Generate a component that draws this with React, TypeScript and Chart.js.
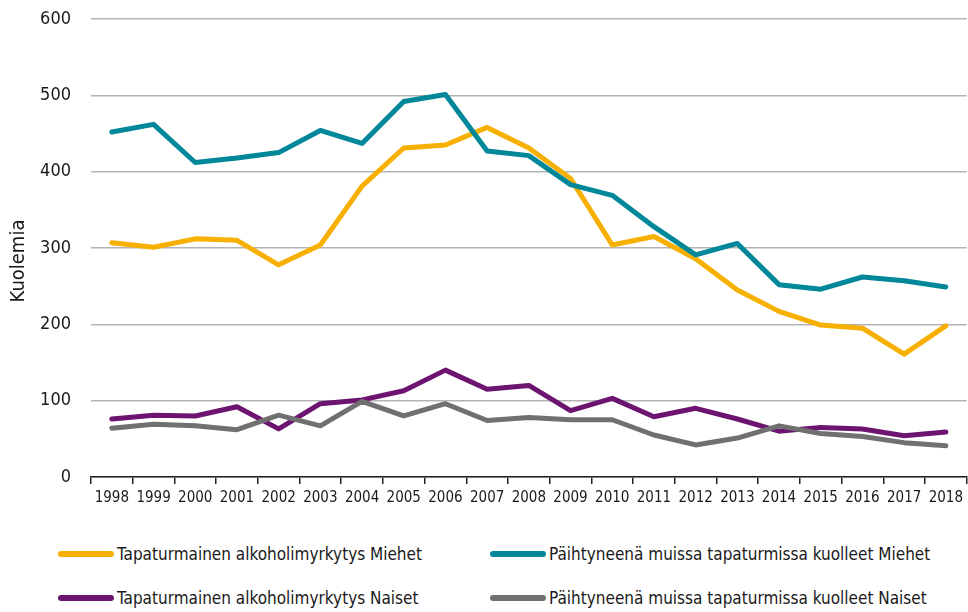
import React, { useEffect, useRef } from "react";
import { Chart, registerables } from "chart.js";

Chart.register(...registerables);

const years = ["1998","1999","2000","2001","2002","2003","2004","2005","2006","2007","2008","2009","2010","2011","2012","2013","2014","2015","2016","2017","2018"];
const alkoMiehet = [307, 301, 312, 310, 278, 304, 381, 431, 435, 458, 431, 391, 304, 315, 286, 245, 217, 199, 195, 161, 198];
const paihtMiehet = [452, 462, 412, 418, 425, 454, 437, 492, 501, 427, 421, 383, 369, 328, 291, 306, 252, 246, 262, 257, 249];
const alkoNaiset = [76, 81, 80, 92, 63, 96, 101, 113, 140, 115, 120, 87, 103, 79, 90, 76, 60, 65, 63, 54, 59];
const paihtNaiset = [64, 69, 67, 62, 81, 67, 99, 80, 96, 74, 78, 75, 75, 55, 42, 51, 67, 57, 53, 45, 41];
const yTicks = [0, 100, 200, 300, 400, 500, 600];
const yTitle = "Kuolemia";

const FONT = "'DejaVu Sans Condensed', 'Liberation Sans Narrow', sans-serif";
const ORANGE = "#F8B000";
const TEAL = "#00879A";
const PURPLE = "#6D1470";
const GRAY = "#707070";

const legendItems = [
  { label: "Tapaturmainen alkoholimyrkytys Miehet", color: ORANGE, left: 58, top: 554 },
  { label: "Päihtyneenä muissa tapaturmissa kuolleet Miehet", color: TEAL, left: 490, top: 554 },
  { label: "Tapaturmainen alkoholimyrkytys Naiset", color: PURPLE, left: 58, top: 598 },
  { label: "Päihtyneenä muissa tapaturmissa kuolleet Naiset", color: GRAY, left: 490, top: 598 },
];

const yTitlePlugin = {
  id: "yTitlePlugin",
  afterDraw(chart: any) {
    const ctx = chart.ctx;
    const area = chart.chartArea;
    ctx.save();
    ctx.translate(19, (area.top + area.bottom) / 2 + 13);
    ctx.rotate(-Math.PI / 2);
    ctx.font = `20px ${FONT}`;
    ctx.fillStyle = "#1a1a1a";
    ctx.textAlign = "center";
    ctx.textBaseline = "middle";
    ctx.fillText(yTitle, 0, 0);
    ctx.restore();
  },
};

export default function App() {
  const ref = useRef<HTMLCanvasElement>(null);
  useEffect(() => {
    if (!ref.current) return;
    const mk = (label: string, data: number[], color: string, order: number) => ({
      label,
      data,
      borderColor: color,
      backgroundColor: color,
      borderWidth: 5,
      pointRadius: 0,
      tension: 0,
      borderCapStyle: "round" as const,
      borderJoinStyle: "round" as const,
      order,
    });
    const chart = new Chart(ref.current, {
      type: "line",
      data: {
        labels: years,
        datasets: [
          mk("Tapaturmainen alkoholimyrkytys Miehet", alkoMiehet, ORANGE, 3),
          mk("Päihtyneenä muissa tapaturmissa kuolleet Miehet", paihtMiehet, TEAL, 2),
          mk("Tapaturmainen alkoholimyrkytys Naiset", alkoNaiset, PURPLE, 1),
          mk("Päihtyneenä muissa tapaturmissa kuolleet Naiset", paihtNaiset, GRAY, 0),
        ],
      },
      plugins: [yTitlePlugin],
      options: {
        animation: false,
        responsive: false,
        maintainAspectRatio: false,
        layout: { padding: { top: 19, right: 0, bottom: 0, left: 0 } },
        plugins: { legend: { display: false }, tooltip: { enabled: false } },
        scales: {
          x: {
            offset: true,
            grid: {
              display: true,
              offset: true,
              drawOnChartArea: false,
              drawTicks: true,
              tickLength: 7,
              color: "#222",
              lineWidth: 1.5,
            },
            border: { display: true, color: "#222", width: 1.5 },
            ticks: {
              color: "#1a1a1a",
              font: { family: FONT, size: 15 },
              padding: 5,
              maxRotation: 0,
              autoSkip: false,
            },
            afterFit: (s: any) => { s.height = 43; },
          },
          y: {
            min: 0,
            max: 600,
            afterBuildTicks: (s: any) => { s.ticks = yTicks.map((v) => ({ value: v })); },
            grid: { color: "#b3b3b3", lineWidth: 1.5, drawTicks: true, tickLength: 20, tickColor: "rgba(0,0,0,0)" },
            border: { display: false },
            ticks: {
              color: "#1a1a1a",
              font: { family: FONT, size: 18 },
              padding: 0,
            },
            afterFit: (s: any) => { s.width = 91; },
          },
        },
      },
    });
    return () => chart.destroy();
  }, []);

  return (
    <div style={{ position: "absolute", left: 0, top: 0, width: 968, height: 612, background: "#fff", fontFamily: FONT }}>
      <canvas ref={ref} width={968} height={520} style={{ position: "absolute", left: 0, top: 0, width: 968, height: 520 }} />
      {legendItems.map((it) => (
        <div key={it.label} style={{ position: "absolute", left: it.left, top: it.top - 14, height: 28, display: "flex", alignItems: "center", whiteSpace: "nowrap" }}>
          <span style={{ display: "inline-block", width: 56, height: 6, borderRadius: 3, background: it.color, marginRight: 3 }} />
          <span style={{ fontSize: 17, color: "#1a1a1a" }}>{it.label}</span>
        </div>
      ))}
    </div>
  );
}
